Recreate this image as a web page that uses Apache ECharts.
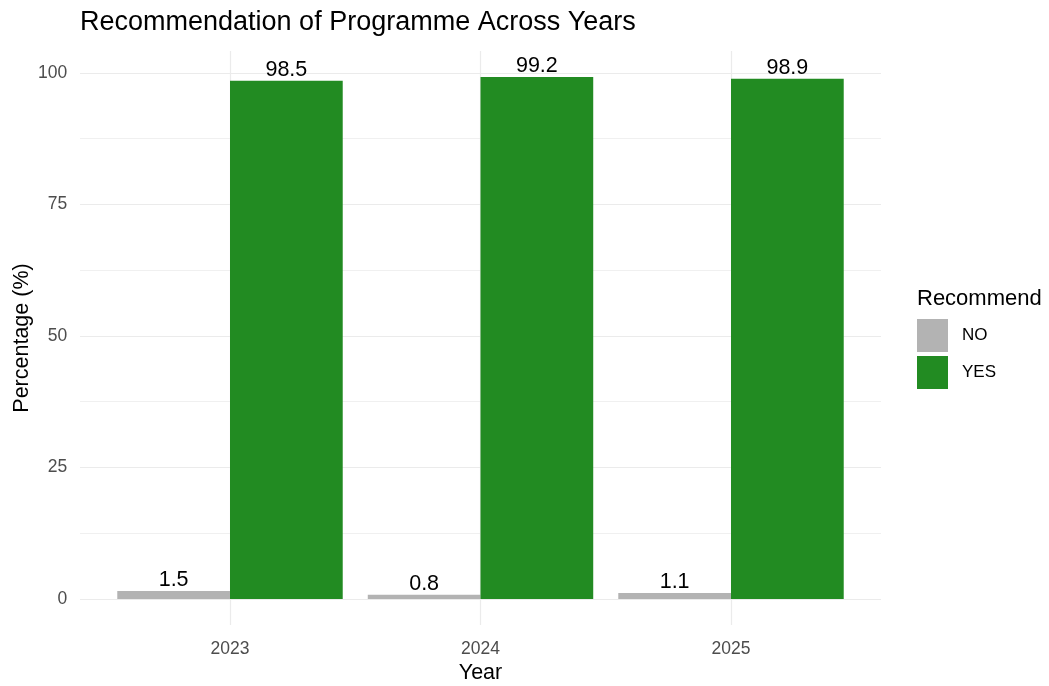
<!DOCTYPE html>
<html>
<head>
<meta charset="utf-8">
<script src="https://cdn.jsdelivr.net/npm/echarts@6/dist/echarts.min.js"></script>
<style>html,body{margin:0;padding:0;background:#fff;}#c{width:1049px;height:686px;}</style>
</head>
<body>
<div id="c"></div>
<script>
const years = ['2023', '2024', '2025'];
const noValues = [1.5, 0.8, 1.1];
const yesValues = [98.5, 99.2, 98.9];
const yTicks = [0, 25, 50, 75, 100];
const yMinorTicks = [12.5, 37.5, 62.5, 87.5];
const seriesNames = ['NO', 'YES'];

const FONT = '"Liberation Sans", Arial, sans-serif';
const yMin = -4.96, yMax = 104.16;

const gridLineData = [
  ...yTicks.map(v => ({ yAxis: v, lineStyle: { color: '#ebebeb', width: 1.2, type: 'solid' } })),
  ...yMinorTicks.map(v => ({ yAxis: v, lineStyle: { color: '#f0f0f0', width: 1, type: 'solid' } })),
  ...years.map((y, i) => ({ xAxis: i + 1, lineStyle: { color: '#ebebeb', width: 1.2, type: 'solid' } }))
];

const chart = echarts.init(document.getElementById('c'), null, { renderer: 'canvas' });
chart.setOption({
  backgroundColor: '#ffffff',
  animation: false,
  textStyle: { fontFamily: FONT },
  title: [
    { text: 'Recommendation of Programme Across Years', left: 80, top: 9, padding: 0,
      textStyle: { fontFamily: FONT, fontSize: 27, fontWeight: 'normal', color: '#000' } },
    { text: 'Recommend', left: 917, top: 288, padding: 0,
      textStyle: { fontFamily: FONT, fontSize: 22, fontWeight: 'normal', color: '#000' } }
  ],
  legend: {
    data: seriesNames, orient: 'vertical', left: 917, top: 319, padding: 0,
    itemWidth: 31, itemHeight: 33, itemGap: 4, icon: 'rect',
    textStyle: { fontFamily: FONT, fontSize: 17, color: '#000', padding: [0, 0, 0, 9] }
  },
  grid: [
    { left: 104.75, right: 192.75, top: 51, bottom: 61, containLabel: false, outerBoundsMode: 'none' },
    { left: 80, right: 168, top: 51, bottom: 61, containLabel: false, outerBoundsMode: 'none' }
  ],
  xAxis: [
    { type: 'category', data: years, gridIndex: 0,
      axisLine: { show: false }, axisTick: { show: false }, splitLine: { show: false },
      axisLabel: { color: '#4d4d4d', fontSize: 17.5, margin: 15, fontFamily: FONT },
      name: 'Year', nameLocation: 'middle', nameGap: 37, nameMoveOverlap: false,
      nameTextStyle: { fontFamily: FONT, fontSize: 21.5, color: '#000' } },
    { type: 'value', gridIndex: 1, min: 0.4, max: 3.6, show: false }
  ],
  yAxis: [
    { type: 'value', gridIndex: 0, min: yMin, max: yMax,
      axisLine: { show: false }, axisTick: { show: false }, splitLine: { show: false },
      axisLabel: { customValues: yTicks, color: '#4d4d4d', fontSize: 17.5, margin: 37.5, fontFamily: FONT },
      name: 'Percentage (%)', nameLocation: 'middle', nameRotate: 90, nameGap: 72, nameMoveOverlap: false,
      nameTextStyle: { fontFamily: FONT, fontSize: 21.5, color: '#000' } },
    { type: 'value', gridIndex: 1, min: yMin, max: yMax, show: false }
  ],
  series: [
    { type: 'line', xAxisIndex: 1, yAxisIndex: 1, data: [], z: 0, silent: true,
      markLine: { silent: true, z: 0, symbol: ['none', 'none'], label: { show: false }, animation: false,
        data: gridLineData } },
    { name: 'NO', type: 'bar', xAxisIndex: 0, yAxisIndex: 0, data: noValues,
      barGap: '0%', barCategoryGap: '10%', z: 3,
      itemStyle: { color: '#b3b3b3' },
      label: { show: true, position: 'top', distance: 0, fontSize: 21.5, color: '#000', fontFamily: FONT,
        formatter: p => p.value.toFixed(1) } },
    { name: 'YES', type: 'bar', xAxisIndex: 0, yAxisIndex: 0, data: yesValues,
      barGap: '0%', barCategoryGap: '10%', z: 3,
      itemStyle: { color: '#228b22' },
      label: { show: true, position: 'top', distance: 0, fontSize: 21.5, color: '#000', fontFamily: FONT,
        formatter: p => p.value.toFixed(1) } }
  ]
});
</script>
</body>
</html>
